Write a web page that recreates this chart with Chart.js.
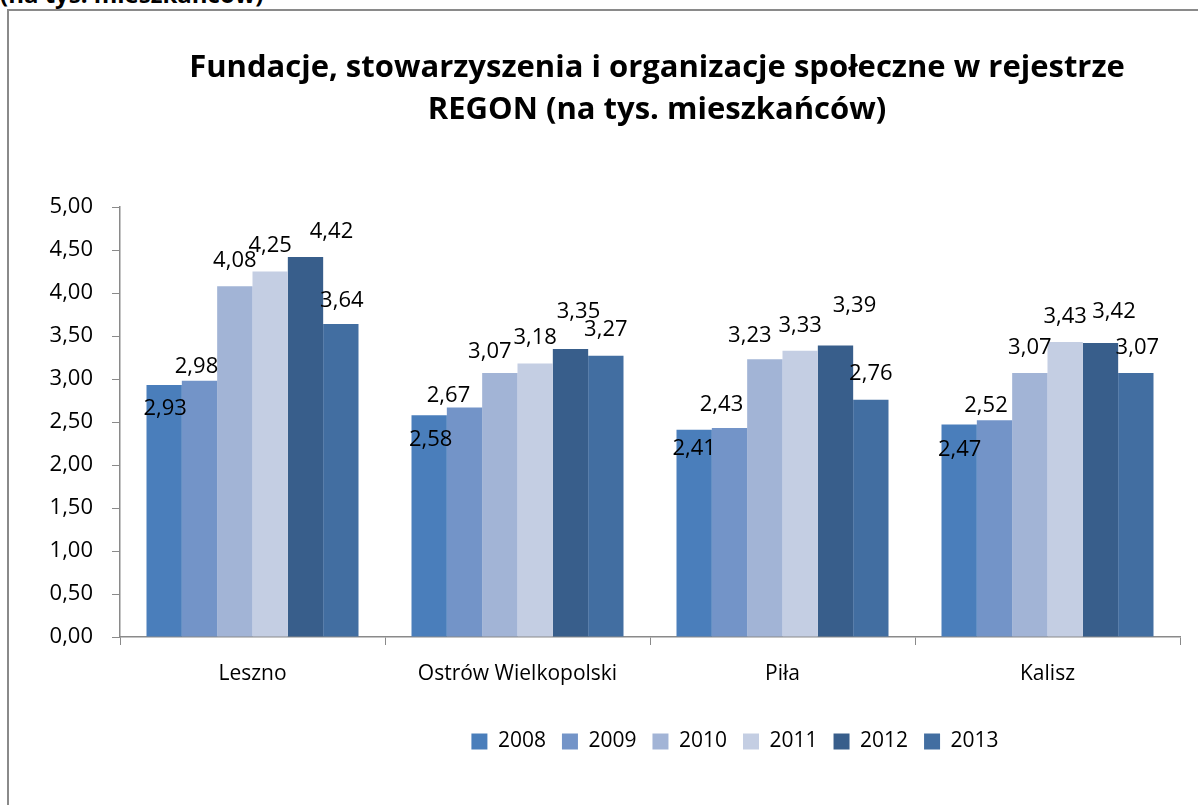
<!DOCTYPE html>
<html lang="pl">
<head>
<meta charset="UTF-8">
<title>Fundacje, stowarzyszenia i organizacje społeczne w rejestrze REGON</title>
<script src="https://cdn.jsdelivr.net/npm/chart.js@4"></script>
<style>
    html, body { margin: 0; padding: 0; background: #fff; overflow: hidden; }
    body { width: 1198px; height: 805px; position: relative; font-family: 'Open Sans', sans-serif; }
    .prev-caption { position: absolute; left: 0; top: -18px; font-size: 24px; line-height: 24px; font-weight: bold; color: #000; white-space: nowrap; }
    .frame { position: absolute; left: 7px; top: 9px; width: 1300px; height: 900px; border-left: 2px solid #8a8a8a; border-top: 2px solid #8a8a8a; }
    .chart-box { position: absolute; left: 0; top: 0; width: 1198px; height: 805px; }
</style>
</head>
<body>
<div class="prev-caption">(na tys. mieszkańców)</div>
<div class="frame"></div>
<div class="chart-box"><canvas id="regonChart"></canvas></div>

<script>
// miasta i lata
const miasta = ['Leszno', 'Ostrów Wielkopolski', 'Piła', 'Kalisz'];
const lata = ['2008', '2009', '2010', '2011', '2012', '2013'];

// wskaźnik na 1000 mieszkańców, kolejność jak w miasta
const dane2008 = [2.93, 2.58, 2.41, 2.47];
const dane2009 = [2.98, 2.67, 2.43, 2.52];
const dane2010 = [4.08, 3.07, 3.23, 3.07];
const dane2011 = [4.25, 3.18, 3.33, 3.43];
const dane2012 = [4.42, 3.35, 3.39, 3.42];
const dane2013 = [3.64, 3.27, 2.76, 3.07];

const yTicks = { min: 0, max: 5, step: 0.5 };

const kolory = ['#4a7ebb', '#7394c8', '#a2b4d6', '#c4cee3', '#385e8b', '#426ea1'];

// przesunięcia etykiet wartości względem wierzchołka słupka [dx, dy]
const przesuniecia = [
    [[1, 24], [1.5, 25], [0, 19], [0.5, 25.5]],
    [[-3, -14], [-16, -12], [-8, -23], [-8.5, -15]],
    [[0, -25], [-10, -21], [-15, -23], [0, -25]],
    [[0, -26], [0, -26], [0, -25], [0, -25.5]],
    [[26, -25], [8, -37], [19, -40], [13.5, -31.5]],
    [[1, -23.5], [0, -26], [0, -25.5], [1.5, -25]]
];

const fmt = v => v.toFixed(2).replace('.', ',');

const serie = [dane2008, dane2009, dane2010, dane2011, dane2012, dane2013];

const etykietyWartosci = {
    id: 'etykietyWartosci',
    afterDatasetsDraw(chart) {
        const ctx = chart.ctx;
        ctx.save();
        ctx.font = '22px "Open Sans"';
        ctx.fillStyle = '#000';
        ctx.textAlign = 'center';
        ctx.textBaseline = 'middle';
        chart.data.datasets.forEach((ds, i) => {
            chart.getDatasetMeta(i).data.forEach((bar, j) => {
                const [dx, dy] = przesuniecia[i][j];
                ctx.fillText(fmt(ds.data[j]), bar.x + dx, bar.y + dy);
            });
        });
        ctx.restore();
    }
};

// tytuł i legenda nie są wyśrodkowane względem obszaru wykresu
const przesunBoksy = {
    id: 'przesunBoksy',
    afterLayout(chart) {
        chart.legend.left += 85;
        chart.legend.right += 85;
        chart.titleBlock.left += 7;
        chart.titleBlock.right += 7;
    }
};

new Chart(document.getElementById('regonChart'), {
    type: 'bar',
    data: {
        labels: miasta,
        datasets: lata.map((rok, i) => ({
            label: rok,
            data: serie[i],
            backgroundColor: kolory[i],
            borderWidth: 0,
            categoryPercentage: 0.8,
            barPercentage: 1.0
        }))
    },
    options: {
        responsive: true,
        maintainAspectRatio: false,
        devicePixelRatio: 1,
        animation: false,
        layout: { padding: { top: 0, right: 18, bottom: 43, left: 0 } },
        plugins: {
            title: {
                display: true,
                fullSize: false,
                text: ['Fundacje, stowarzyszenia i organizacje społeczne w rejestrze', 'REGON (na tys. mieszkańców)'],
                color: '#000',
                font: { family: "'Open Sans', sans-serif", size: 31, weight: 'bold', lineHeight: 1.355 },
                padding: { top: 47, bottom: 76 }
            },
            legend: {
                position: 'bottom',
                fullSize: false,
                labels: {
                    boxWidth: 16,
                    boxHeight: 16,
                    padding: 16,
                    color: '#000',
                    font: { family: "'Open Sans', sans-serif", size: 21 }
                }
            },
            tooltip: { enabled: false }
        },
        scales: {
            x: {
                grid: { drawOnChartArea: false, drawTicks: true, tickLength: 8, color: '#8a8a8a', offset: true },
                border: { color: '#8a8a8a', width: 1.5 },
                ticks: { color: '#000', padding: 16, font: { family: "'Open Sans', sans-serif", size: 21 } },
                afterFit(scale) { scale.height = 78; }
            },
            y: {
                min: yTicks.min,
                max: yTicks.max,
                grid: { drawOnChartArea: false, drawTicks: true, tickLength: 8, color: '#8a8a8a' },
                border: { color: '#8a8a8a', width: 1.5 },
                ticks: {
                    stepSize: yTicks.step,
                    padding: 19,
                    color: '#000',
                    font: { family: "'Open Sans', sans-serif", size: 22 },
                    callback: v => fmt(v)
                },
                afterFit(scale) { scale.width = 120; }
            }
        }
    },
    plugins: [etykietyWartosci, przesunBoksy]
});
</script>
</body>
</html>
